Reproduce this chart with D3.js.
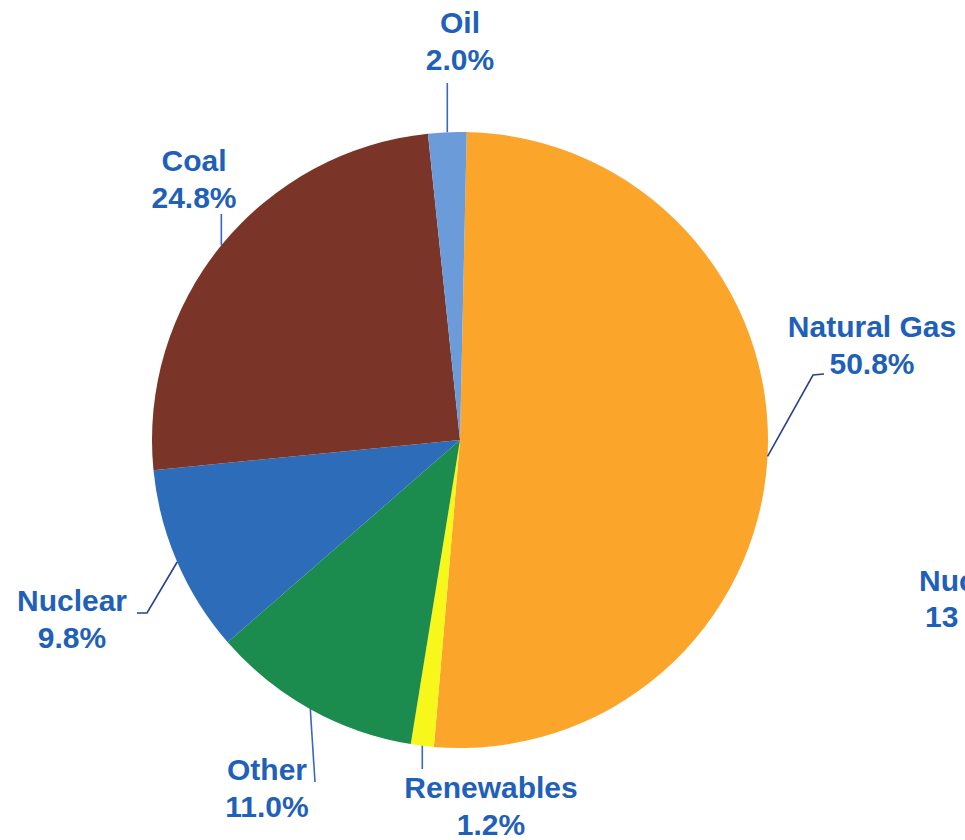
<!DOCTYPE html>
<html>
<head>
<meta charset="utf-8">
<script src="https://cdn.jsdelivr.net/npm/d3@7"></script>
<style>
  html, body { margin: 0; padding: 0; background: #ffffff; }
  svg { display: block; }
  .lbl { font-family: "Liberation Sans", Arial, sans-serif; font-weight: bold; font-size: 30px; fill: #1f60b8; }
</style>
</head>
<body>
<svg id="chart" width="965" height="840"></svg>
<script>
// Fuel mix shares, clockwise from twelve o'clock
const categories = ["Natural Gas", "Renewables", "Other", "Nuclear", "Coal", "Oil"];
const shares = [50.8, 1.2, 11.0, 9.8, 24.8, 2.0];
const sliceColors = ["#fba62a", "#f7f71c", "#1b8c4e", "#2c6cb9", "#7b3528", "#6b9bd9"];

// Label placement: text centre, first baseline, and the leader path
// from the slice edge (first point comes from the arc itself)
const labelLayout = [
  { x: 872, y: 337, leader: [[813, 375], [824, 374]], stroke: "#27418f" },
  { x: 491, y: 798, leader: "vertical", endY: 769, stroke: "#3a66c8" },
  { x: 267, y: 780, leader: [[315, 782]], stroke: "#3a66c8" },
  { x: 72,  y: 611, leader: [[147, 613], [137, 613]], stroke: "#27418f" },
  { x: 194, y: 171, leader: "vertical", endY: 214, stroke: "#3a66c8" },
  { x: 460, y: 33,  leader: "vertical", endY: 83, stroke: "#3a66c8" }
];

// Fragment of the neighbouring chart's label at the right edge
const edgeLabel = ["Nuc", "13"];

const svg = d3.select("#chart");
const cx = 460, cy = 440, radius = 308;
const lineGap = 37;

const startOffset = 1.25 * Math.PI / 180;
const pie = d3.pie()
  .sort(null)
  .value(d => d.value)
  .startAngle(startOffset)
  .endAngle(startOffset + 2 * Math.PI);

const data = categories.map((c, i) => ({ name: c, value: shares[i], color: sliceColors[i], layout: labelLayout[i] }));
const arcs = pie(data);

const arc = d3.arc().innerRadius(0).outerRadius(radius);
const edge = d3.arc().innerRadius(radius).outerRadius(radius);

const g = svg.append("g").attr("transform", `translate(${cx},${cy})`);

g.selectAll("path.slice")
  .data(arcs)
  .join("path")
  .attr("class", "slice")
  .attr("d", arc)
  .attr("fill", d => d.data.color);

// Leader lines
const line = d3.line();
svg.selectAll("path.leader")
  .data(arcs)
  .join("path")
  .attr("class", "leader")
  .attr("fill", "none")
  .attr("stroke", d => d.data.layout.stroke)
  .attr("stroke-width", 1.6)
  .attr("d", d => {
    const [ex, ey] = edge.centroid(d);
    const p0 = [cx + ex, cy + ey];
    const L = d.data.layout;
    const pts = L.leader === "vertical" ? [p0, [p0[0], L.endY]] : [p0, ...L.leader];
    return line(pts);
  });

// Category labels with percentages
const labels = svg.selectAll("text.lbl")
  .data(arcs)
  .join("text")
  .attr("class", "lbl")
  .attr("text-anchor", "middle");

labels.append("tspan")
  .attr("x", d => d.data.layout.x)
  .attr("y", d => d.data.layout.y)
  .text(d => d.data.name);

labels.append("tspan")
  .attr("x", d => d.data.layout.x)
  .attr("y", d => d.data.layout.y + lineGap)
  .text(d => d3.format(".1f")(d.data.value) + "%");

const edgeText = svg.append("text").attr("class", "lbl");
edgeText.append("tspan").attr("x", 919).attr("y", 591).text(edgeLabel[0]);
edgeText.append("tspan").attr("x", 925).attr("y", 627).text(edgeLabel[1]);
</script>
</body>
</html>
